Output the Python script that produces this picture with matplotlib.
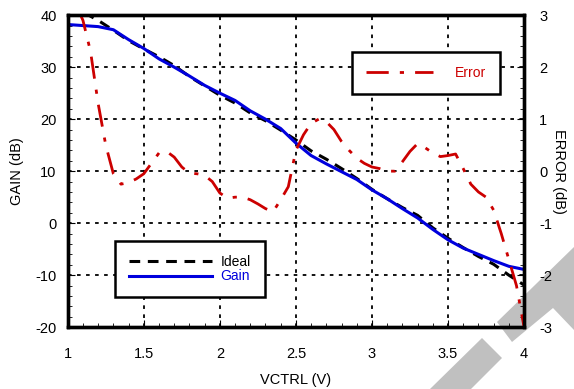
import numpy as np
import matplotlib
matplotlib.use('Agg')
import matplotlib.pyplot as plt
from matplotlib.patches import Polygon
from matplotlib.ticker import MultipleLocator

plt.rcParams['font.family'] = ['Liberation Sans', 'DejaVu Sans']
plt.rcParams['axes.unicode_minus'] = False

# gain / ideal (dB)
vctrl = [1.0, 1.1, 1.2, 1.3, 1.4, 1.5, 1.6, 1.7, 1.8, 1.9, 2.0, 2.1, 2.2, 2.3, 2.4, 2.5,
         2.6, 2.7, 2.8, 2.9, 3.0, 3.1, 3.2, 3.3, 3.4, 3.5, 3.6, 3.7, 3.8, 3.9, 4.0]
gain = [38.2, 38.0, 37.8, 37.2, 35.3, 33.6, 31.6, 30.0, 28.3, 26.5, 25.0, 23.6, 21.6, 20.0, 18.2, 15.4,
        13.0, 11.4, 9.9, 8.4, 6.4, 4.7, 2.8, 1.0, -1.2, -3.2, -4.8, -6.0, -7.2, -8.3, -8.9]
ideal = [42.0, 40.6, 39.0, 37.1, 35.1, 33.5, 32.0, 30.3, 28.2, 26.4, 24.6, 23.1, 21.2, 19.7, 17.9, 16.0,
         13.9, 12.3, 10.5, 8.6, 6.5, 4.7, 3.0, 1.5, -0.9, -2.9, -4.7, -6.4, -7.9, -10.0, -11.9]

# error (dB), right axis
err_x = [1.07, 1.1, 1.15, 1.2, 1.25, 1.3, 1.35, 1.4, 1.45, 1.5, 1.55, 1.6, 1.65, 1.7, 1.75, 1.8,
         1.85, 1.9, 1.95, 2.0, 2.05, 2.1, 2.15, 2.2, 2.25, 2.3, 2.35, 2.4, 2.45, 2.5, 2.55, 2.6,
         2.65, 2.7, 2.75, 2.8, 2.85, 2.9, 2.95, 3.0, 3.05, 3.1, 3.15, 3.2, 3.25, 3.3, 3.35, 3.4,
         3.45, 3.5, 3.55, 3.6, 3.65, 3.7, 3.75, 3.8, 3.85, 3.9, 3.95, 4.0]
error = [3.1, 2.9, 2.3, 1.3, 0.5, -0.05, -0.25, -0.22, -0.15, -0.05, 0.15, 0.35, 0.38, 0.27, 0.08, -0.04,
         -0.05, -0.08, -0.2, -0.42, -0.52, -0.5, -0.5, -0.55, -0.63, -0.72, -0.78, -0.55, -0.3, 0.4, 0.7, 0.92,
         1.0, 0.95, 0.8, 0.57, 0.4, 0.25, 0.15, 0.08, 0.05, 0.0, 0.0, 0.18, 0.38, 0.53, 0.45, 0.35,
         0.28, 0.3, 0.33, 0.05, -0.25, -0.4, -0.5, -0.75, -1.2, -1.7, -2.2, -3.0]

fig = plt.figure(figsize=(5.74, 3.89), dpi=100)
ax = fig.add_axes([0.118, 0.159, 0.795, 0.802])
ax2 = ax.twinx()
ax.patch.set_alpha(0)
ax2.patch.set_alpha(0)

ax.set_xlim(1, 4)
ax.set_ylim(-20, 40)
ax2.set_ylim(-3, 3)

ax.grid(True, which='major', color='black', linestyle=(0, (2, 3)), linewidth=1.3)

l_ideal, = ax.plot(vctrl, ideal, color='black', linewidth=2.2, dashes=(3.5, 2.5), label='Ideal')
l_gain, = ax.plot(vctrl, gain, color='#0000dd', linewidth=2.2, label='Gain')
l_err, = ax2.plot(err_x, error, color='#cc0000', linewidth=2.0, dashes=(8, 4, 1.5, 4), label='Error')

ax.xaxis.set_major_locator(MultipleLocator(0.5))
ax.xaxis.set_minor_locator(MultipleLocator(0.1))
ax.yaxis.set_major_locator(MultipleLocator(10))
ax.yaxis.set_minor_locator(MultipleLocator(2))
ax2.yaxis.set_major_locator(MultipleLocator(1))
ax2.yaxis.set_minor_locator(MultipleLocator(0.2))
ax.set_xticks([1, 1.5, 2, 2.5, 3, 3.5, 4])
ax.set_xticklabels(['1', '1.5', '2', '2.5', '3', '3.5', '4'])

ax.tick_params(axis='x', which='both', direction='in', pad=14, labelsize=10.5)
ax.tick_params(axis='x', which='major', length=5)
ax.tick_params(axis='x', which='minor', length=3)
ax.tick_params(axis='y', which='both', direction='in', pad=8, labelsize=10.5)
ax.tick_params(axis='y', which='major', length=5)
ax.tick_params(axis='y', which='minor', length=3)
ax2.tick_params(axis='y', which='both', direction='in', pad=11, labelsize=10.5)
ax2.tick_params(axis='y', which='major', length=5)
ax2.tick_params(axis='y', which='minor', length=3)

for a in (ax, ax2):
    for s in a.spines.values():
        s.set_linewidth(2.4)

ax.set_xlabel('VCTRL (V)', fontsize=10.5, labelpad=9)
ax.set_ylabel('GAIN (dB)', fontsize=10.5, labelpad=8)
ax2.set_ylabel('ERROR (dB)', fontsize=10.5, rotation=-90, labelpad=10)

leg1 = ax.legend(handles=[l_ideal, l_gain], loc='center', bbox_to_anchor=(0.268, 0.186),
                 fontsize=10, handlelength=6.0, handletextpad=0.6, labelspacing=0.05,
                 borderpad=1.0, fancybox=False, framealpha=1, edgecolor='black')
leg1.get_frame().set_linewidth(1.8)
leg1.get_texts()[1].set_color('#0000dd')
leg1.remove()
ax2.add_artist(leg1)

leg2 = ax2.legend(handles=[l_err], loc='center', bbox_to_anchor=(0.786, 0.814),
                  fontsize=10, handlelength=4.8, handletextpad=1.6,
                  borderpad=1.0, fancybox=False, framealpha=1, edgecolor='black')
leg2.get_frame().set_linewidth(1.8)
leg2.get_texts()[0].set_color('#cc0000')

# grey watermark shapes, behind the chart
W, H = 574.0, 389.0
def fig_pts(pts):
    return [(x / W, 1 - y / H) for x, y in pts]

fig.patches.append(Polygon(fig_pts([(497, 322), (574, 247), (574, 330), (553, 308), (512, 342)]),
                           closed=True, transform=fig.transFigure, facecolor='#c0c0c0',
                           edgecolor='none', zorder=-1))
fig.patches.append(Polygon(fig_pts([(430, 389), (482, 338), (502, 358), (471, 389)]),
                           closed=True, transform=fig.transFigure, facecolor='#c0c0c0',
                           edgecolor='none', zorder=-1))

fig.savefig('out.png', dpi=100)
